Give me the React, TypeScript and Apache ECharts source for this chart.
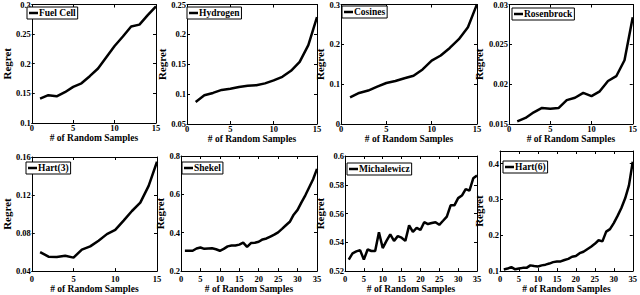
import React, { useEffect, useRef } from "react";
import * as echarts from "echarts";

const samples15 = [1, 2, 3, 4, 5, 6, 7, 8, 9, 10, 11, 12, 13, 14, 15];
const samples35 = [1, 2, 3, 4, 5, 6, 7, 8, 9, 10, 11, 12, 13, 14, 15, 16, 17, 18, 19, 20, 21, 22, 23, 24, 25, 26, 27, 28, 29, 30, 31, 32, 33, 34, 35];

const fuelCell = [0.141, 0.147, 0.145, 0.152, 0.161, 0.167, 0.179, 0.192, 0.211, 0.23, 0.246, 0.263, 0.266, 0.282, 0.297];
const hydrogen = [0.087, 0.098, 0.102, 0.107, 0.109, 0.112, 0.114, 0.115, 0.118, 0.123, 0.129, 0.139, 0.154, 0.182, 0.229];
const cosines = [0.067, 0.078, 0.084, 0.094, 0.103, 0.108, 0.115, 0.121, 0.137, 0.159, 0.172, 0.191, 0.213, 0.243, 0.301];
const rosenbrock = [0.01534, 0.01576, 0.01647, 0.01702, 0.0169, 0.017, 0.018, 0.0183, 0.0189, 0.0185, 0.0191, 0.0204, 0.021, 0.023, 0.0284];
const hart3 = [0.06, 0.0552, 0.0549, 0.0562, 0.0542, 0.0626, 0.066, 0.072, 0.0789, 0.0833, 0.0931, 0.1032, 0.112, 0.1296, 0.155];
const shekel = [0.306, 0.306, 0.306, 0.318, 0.323, 0.316, 0.318, 0.319, 0.314, 0.306, 0.316, 0.329, 0.333, 0.333, 0.338, 0.348, 0.326, 0.346, 0.348, 0.353, 0.365, 0.37, 0.38, 0.39, 0.402, 0.42, 0.439, 0.457, 0.494, 0.519, 0.558, 0.595, 0.637, 0.679, 0.733];
const michalewicz = [0.5279, 0.5324, 0.5337, 0.5346, 0.528, 0.535, 0.534, 0.534, 0.547, 0.536, 0.541, 0.5455, 0.541, 0.5443, 0.5432, 0.541, 0.5518, 0.5473, 0.55, 0.5486, 0.554, 0.5527, 0.5534, 0.554, 0.5522, 0.555, 0.5579, 0.5657, 0.5657, 0.5707, 0.5725, 0.577, 0.5759, 0.5845, 0.5865];
const hart6 = [0.1045, 0.107, 0.111, 0.105, 0.107, 0.109, 0.109, 0.116, 0.114, 0.113, 0.116, 0.118, 0.121, 0.125, 0.127, 0.127, 0.131, 0.134, 0.14, 0.142, 0.15, 0.154, 0.161, 0.168, 0.176, 0.186, 0.183, 0.21, 0.217, 0.234, 0.254, 0.276, 0.303, 0.339, 0.405];

const names = ["Fuel Cell", "Hydrogen", "Cosines", "Rosenbrock", "Hart(3)", "Shekel", "Michalewicz", "Hart(6)"];
const xValues = [samples15, samples15, samples15, samples15, samples15, samples35, samples35, samples35];
const yValues = [fuelCell, hydrogen, cosines, rosenbrock, hart3, shekel, michalewicz, hart6];
const xMaxes = [15, 15, 15, 15, 15, 35, 35, 35];
const yMins = [0.1, 0.05, 0, 0.015, 0.04, 0.2, 0.52, 0.1];
const yMaxes = [0.3, 0.25, 0.3, 0.03, 0.16, 0.8, 0.6, 0.435];
const yIntervals = [0.05, 0.05, 0.1, 0.005, 0.04, 0.2, 0.02, 0.1];
const xTitle = "# of Random Samples";
const yTitle = "Regret";

// layout (pixels)
const grids = [
  { left: 24, top: 4, width: 132, height: 119 },
  { left: 187, top: 4, width: 130, height: 120 },
  { left: 341, top: 4, width: 136, height: 120 },
  { left: 509, top: 4, width: 128, height: 120 },
  { left: 24, top: 157, width: 133, height: 117 },
  { left: 181, top: 156, width: 136, height: 119 },
  { left: 345, top: 156, width: 132, height: 119 },
  { left: 500, top: 151, width: 137, height: 124 },
];
const yNameGaps = [15, 17, 11, 19, 15, 12, 16, 11];
const legendPos = [
  { left: 27, top: 7 },
  { left: 187, top: 7 },
  { left: 342, top: 6 },
  { left: 512, top: 8 },
  { left: 26, top: 162 },
  { left: 182, top: 162 },
  { left: 347, top: 163 },
  { left: 503, top: 161 },
];

const FONT = "Liberation Serif";

function fmt(v: number) {
  return String(parseFloat(v.toFixed(5)));
}

export default function App() {
  const ref = useRef<HTMLDivElement>(null);
  useEffect(() => {
    if (!ref.current) return;
    const chart = echarts.init(ref.current, undefined, { renderer: "svg" });
    const xAxis: any[] = [];
    const yAxis: any[] = [];
    const series: any[] = [];
    const legend: any[] = [];
    const axisLine = { show: true, onZero: false, lineStyle: { color: "#000", width: 1 } };
    const tick = { show: true, inside: true, length: 3, lineStyle: { color: "#000", width: 1 } };
    names.forEach((name, i) => {
      const xInt = 5;
      const yMin = yMins[i];
      const yInt = yIntervals[i];
      const top = i < 4;
      xAxis.push({
        type: "value",
        gridIndex: i,
        position: "bottom",
        min: 0,
        max: xMaxes[i],
        interval: xInt,
        axisLine,
        axisTick: tick,
        splitLine: { show: false },
        axisLabel: {
          margin: top ? 0 : 3,
          fontFamily: FONT,
          fontWeight: "bold",
          fontSize: 8.5,
          color: "#000",
          formatter: (v: number) => fmt(v),
        },
        name: xTitle,
        nameLocation: "middle",
        nameGap: top ? 7 : 11,
        nameTextStyle: { fontFamily: FONT, fontWeight: "bold", fontSize: 9.5, color: "#000" },
      });
      xAxis.push({
        type: "value",
        gridIndex: i,
        position: "top",
        min: 0,
        max: xMaxes[i],
        interval: xInt,
        axisLine,
        axisTick: tick,
        splitLine: { show: false },
        axisLabel: { show: false },
      });
      yAxis.push({
        type: "value",
        gridIndex: i,
        position: "left",
        min: yMin,
        max: yMaxes[i],
        interval: yInt,
        axisLine,
        axisTick: tick,
        splitLine: { show: false },
        axisLabel: {
          margin: 1,
          fontFamily: FONT,
          fontWeight: "bold",
          fontSize: 8.5,
          color: "#000",
          formatter: (v: number) => {
            const k = (v - yMin) / yInt;
            if (Math.abs(k - Math.round(k)) > 1e-6) return "";
            return fmt(v);
          },
        },
        name: yTitle,
        nameLocation: "middle",
        nameGap: yNameGaps[i],
        nameTextStyle: { fontFamily: FONT, fontWeight: "bold", fontSize: 11, color: "#000" },
      });
      yAxis.push({
        type: "value",
        gridIndex: i,
        position: "right",
        min: yMin,
        max: yMaxes[i],
        interval: yInt,
        axisLine,
        axisTick: tick,
        splitLine: { show: false },
        axisLabel: { show: false },
      });
      series.push({
        type: "line",
        name,
        xAxisIndex: i * 2,
        yAxisIndex: i * 2,
        data: xValues[i].map((x, j) => [x, yValues[i][j]]),
        symbol: "none",
        lineStyle: { color: "#000", width: 2.5 },
        itemStyle: { color: "#000" },
      });
      legend.push({
        data: [name],
        left: legendPos[i].left,
        top: legendPos[i].top,
        icon: "rect",
        itemWidth: 9,
        itemHeight: 2.5,
        itemGap: 2,
        padding: [1, 2, 1, 2],
        backgroundColor: "#fff",
        borderColor: "#000",
        borderWidth: 1,
        selectedMode: false,
        textStyle: { fontFamily: FONT, fontWeight: "bold", fontSize: 9.5, color: "#000", padding: [0, 0, 0, -4] },
      });
    });
    chart.setOption({
      animation: false,
      backgroundColor: "#fff",
      grid: grids.map((g) => ({ ...g, containLabel: false })),
      xAxis,
      yAxis,
      series,
      legend,
    });
    return () => chart.dispose();
  }, []);
  return <div ref={ref} style={{ position: "absolute", left: 0, top: 0, width: 640, height: 295 }} />;
}
